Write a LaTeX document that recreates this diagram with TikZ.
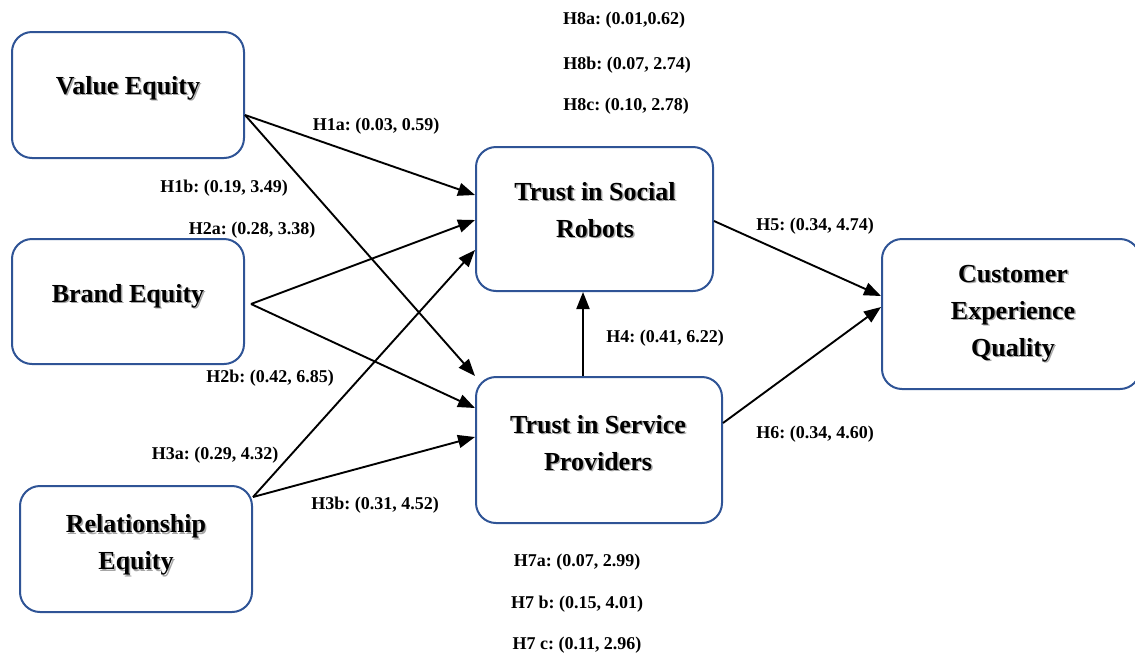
\documentclass[tikz,border=0pt]{standalone}
\usepackage{fontspec}
\setmainfont{Liberation Serif}
\usetikzlibrary{arrows.meta,calc}
\definecolor{boxblue}{RGB}{47,84,150}
\newcommand\shd[1]{\leavevmode\rlap{\hspace{1.5pt}\raisebox{-1.5pt}{\textcolor{black!35}{#1}}}#1}
\frenchspacing
\begin{document}
\begin{tikzpicture}[x=1pt,y=-1pt,
 box/.style={draw=boxblue,line width=2pt,rounded corners=20pt,fill=white,inner sep=0pt},
 boxtext/.style={font=\fontsize{26}{37}\selectfont\bfseries,align=center,inner sep=0pt},
 lab/.style={font=\fontsize{18}{20}\selectfont\bfseries,inner sep=0pt},
 arr/.style={line width=1.9pt,-{Triangle[length=17pt,width=13pt]}}]
\clip (0,0) rectangle (1135,654);
\useasboundingbox (0,0) rectangle (1135,654);

% boxes
\node[box,minimum width=232pt,minimum height=126pt] (ve) at (128,95) {};
\node[box,minimum width=232pt,minimum height=125pt] (be) at (128,301.5) {};
\node[box,minimum width=232pt,minimum height=126pt] (re) at (136,549) {};
\node[box,minimum width=237pt,minimum height=144pt] (tsr) at (594.5,219) {};
\node[box,minimum width=246pt,minimum height=146pt] (tsp) at (599,450) {};
\node[box,minimum width=258pt,minimum height=150pt] (ceq) at (1011,314) {};

% box texts
\node[boxtext] (vet) at (128,89) {\shd{Value Equity}};
\node[boxtext] (bet) at (128,297) {\shd{Brand Equity}};
\node[boxtext] (ret) at (136,546) {\shd{Relationship}\\\shd{Equity}};
\node[boxtext] (tsrt) at (595,210.5) {\shd{Trust in Social}\\\shd{Robots}};
\node[boxtext] (tspt) at (598,443.5) {\shd{Trust in Service}\\\shd{Providers}};
\node[boxtext] (ceqt) at (1013,314) {\shd{Customer}\\\shd{Experience}\\\shd{Quality}};

% arrows
\draw[arr] ($(ve.east)+(0,20)$) -- ($(tsr.west)+(0,-24)$);
\draw[arr] ($(ve.east)+(0,20)$) -- (tsp.north west);
\draw[arr] ($(be.east)+(6,2.5)$) -- ($(tsr.west)+(0,1)$);
\draw[arr] ($(be.east)+(6,2.5)$) -- ($(tsp.west)+(0,-42)$);
\draw[arr] ($(re.east)+(0,-52)$) -- ($(tsr.west)+(0,31)$);
\draw[arr] ($(re.east)+(0,-52)$) -- ($(tsp.west)+(0,-13)$);
\draw[arr] ($(tsp.north)+(-16,0)$) -- ($(tsr.south)+(-11.5,0)$);
\draw[arr] ($(tsr.east)+(0,2)$) -- ($(ceq.west)+(0,-18)$);
\draw[arr] ($(tsp.east)+(0,-27)$) -- ($(ceq.west)+(0,-7)$);

% labels
\node[lab] (h8a) at (624,20) {H8a: (0.01,0.62)};
\node[lab] (h8b) at (627,65) {H8b: (0.07, 2.74)};
\node[lab] (h8c) at (626,106) {H8c: (0.10, 2.78)};
\node[lab] (h1a) at (376,126) {H1a: (0.03, 0.59)};
\node[lab] (h1b) at (224,188) {H1b: (0.19, 3.49)};
\node[lab] (h2a) at (252,230) {H2a: (0.28, 3.38)};
\node[lab] (h2b) at (270,378) {H2b: (0.42, 6.85)};
\node[lab] (h3a) at (215,455) {H3a: (0.29, 4.32)};
\node[lab] (h3b) at (375,505) {H3b: (0.31, 4.52)};
\node[lab] (h4) at (665,338) {H4: (0.41, 6.22)};
\node[lab] (h5) at (815,226) {H5: (0.34, 4.74)};
\node[lab] (h6) at (815,434) {H6: (0.34, 4.60)};
\node[lab] (h7a) at (577,562) {H7a: (0.07, 2.99)};
\node[lab] (h7b) at (577,604) {H7 b: (0.15, 4.01)};
\node[lab] (h7c) at (577,645) {H7 c: (0.11, 2.96)};
\end{tikzpicture}
\end{document}
